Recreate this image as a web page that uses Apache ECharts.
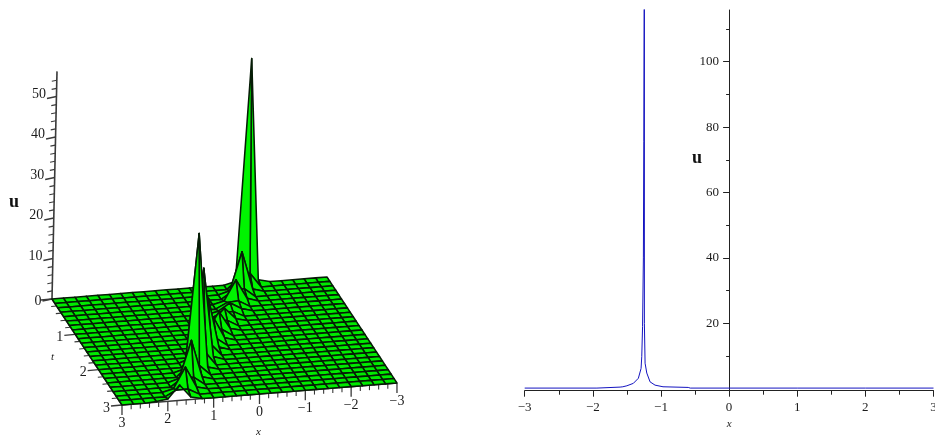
<!DOCTYPE html>
<html>
<head>
<meta charset="utf-8">
<style>html,body{margin:0;padding:0;background:#fff}#c{width:935px;height:438px}</style>
<script src="https://cdn.jsdelivr.net/npm/echarts@6/dist/echarts.min.js"></script>
</head>
<body>
<div id="c"></div>
<script>
// ---------- right panel: u against x ----------
const curveX = [-3, -1.94, -1.935, -1.6, -1.56, -1.5, -1.405, -1.332, -1.292, -1.282, -1.27, -1.258, -1.252, -1.2435, -1.2435, -1.2435, -1.233, -1.208, -1.16, -1.087, -0.97, -0.6, -0.57, 0, 1, 2, 3];
const curveU = [0.2, 0.2, 0.4, 0.5, 0.6, 0.9, 1.65, 3.2, 6.2, 9.8, 19, 40, 75.5, 76, 140, 20, 7.8, 4.8, 2.1, 1.1, 0.6, 0.4, 0.2, 0.2, 0.2, 0.2, 0.2];
const rightMajorU = [20, 40, 60, 80, 100];
const rightMinorU = [10, 30, 50, 70, 90, 110];

// ---------- left panel: surface u(x,t), nodes that rise above the flat sheet ----------
const gridXCount = 24, gridTCount = 24;
const surfaceBase = 0;
const surfaceT = [0,0,0, .125,.125, .25,.25,.25, .375,.375, .5,.5,.5, .625,.625, .75,.75,.75, .875,.875, 1,1,1, 1.125,1.125, 1.25,1.25,1.25, 1.375,1.375, 1.5,1.5,1.5, 1.625,1.625, 1.75,1.75,1.75, 1.875,1.875, 2,2,2, 2.125,2.125, 2.25,2.25,2.25, 2.375,2.375, 2.5,2.5,2.5, 2.625,2.625, 2.75,2.75,2.75, 2.875,2.875, 3,3,3,3];
const surfaceX = [-1.25,-1,-1.5, -1.25,-1, -1,-.75,-1.25, -1,-.75, -.75,-.5,-1, -.75,-.5, -.5,-.25,-.75, -.5,-.25, -.25,0,-.5, -.25,0, 0,.25,-.25, 0,.25, .25,.5,0, .25,.5, .5,.75,.25, .5,.75, .75,1,.5, .75,1, 1,1.25,.75, 1,1.25, 1.25,1.5,1, 1.25,1.5, 1.5,1.75,1.25, 1.5,1.75, 1.75,2,1.5,2.25];
const surfaceU = [55.5,.7,.7, 3.6,2.5, 10.2,.8,.8, 2.2,1.8, 5.7,.7,.9, 1.6,1.4, 2.4,.6,.8, 1.4,1.3, 3.5,.7,.7, 1.6,1.6, 5,.7,.7, 1.8,1.7, 6,.8,.8, 2,2.2, 13,.9,.9, 3,2.8, 23,1,1, 3.5,3.5, 34,.8,.8, 2.5,2.6, 10,.8,.8, 2,2, 5.8,.7,.7, 1.5,1.5, 3.8,.6,.6,.2];

// ---------- left panel: axes ----------
const uMajor = [0, 10, 20, 30, 40, 50];
const uMinor = [2,4,6,8,12,14,16,18,22,24,26,28,32,34,36,38,42,44,46,48,52,54];
const uAxisTop = 56.2;
const tMajor = [0, 1, 2, 3];
const tMinor = [.2,.4,.6,.8,1.2,1.4,1.6,1.8,2.2,2.4,2.6,2.8];
const xMajor = [3, 2, 1, 0, -1, -2, -3];
const xMinor = [2.8,2.6,2.4,2.2,1.8,1.6,1.4,1.2,.8,.6,.4,.2,-.2,-.4,-.6,-.8,-1.2,-1.4,-1.6,-1.8,-2.2,-2.4,-2.6,-2.8];
const minus = '\u2212';

// oblique view of the box (page pixels per data unit)
const view = {ox: 52, oy: 299, ax: 45.83, ay: -3.67, tx: 23.33, ty: 35.33, ux: 0.089, uy: -4.05};
function project(x, t, u) {
  const a = 3 - x;
  return [view.ox + view.ax * a + view.tx * t + view.ux * u,
          view.oy + view.ay * a + view.ty * t + view.uy * u];
}

const uLookup = {};
surfaceX.forEach((x, k) => { uLookup[x + '|' + surfaceT[k]] = surfaceU[k]; });
const dx = 6 / gridXCount, dt = 3 / gridTCount;
const nodeU = (x, t) => { const v = uLookup[x + '|' + t]; return v === undefined ? surfaceBase : v; };

const cells = [];
for (let j = 0; j < gridTCount; j++) {
  for (let i = gridXCount - 1; i >= 0; i--) {
    cells.push([3 - i * dx, j * dt]);
  }
}

const AXIS = '#3a3a3a', TEXT = '#1c1c1c';
const numFont = '14px "Liberation Serif"';
const rightWidth = 408.8;

const tickItems = [];
uMajor.forEach(u => tickItems.push(['u', 3, 0, u, 1]));
uMinor.forEach(u => tickItems.push(['u', 3, 0, u, 0]));
tMajor.forEach(t => tickItems.push(['t', 3, t, 0, 1]));
tMinor.forEach(t => tickItems.push(['t', 3, t, 0, 0]));
xMajor.forEach(x => tickItems.push(['x', x, 3, 0, 1]));
xMinor.forEach(x => tickItems.push(['x', x, 3, 0, 0]));
const labelItems = [
  ...uMajor.map(u => ['u', 3, 0, u, u]),
  ...tMajor.slice(1).map(t => ['t', 3, t, 0, t]),
  ...xMajor.map(x => ['x', x, 3, 0, x])
];

const lineStyle = w => ({stroke: AXIS, lineWidth: w});
const option = {
  animation: false,
  backgroundColor: '#fff',
  grid: [
    {left: 0, top: 0, width: 935, height: 438, show: false, outerBoundsMode: 'none'},
    {left: 524.7, top: 10, width: rightWidth, height: 380.7, show: false, outerBoundsMode: 'none'}
  ],
  xAxis: [
    {gridIndex: 0, type: 'value', min: 0, max: 935, show: false},
    {gridIndex: 1, type: 'value', min: -3, max: 3, interval: 1,
     axisLine: {onZero: false, lineStyle: {color: '#222', width: 1}},
     axisTick: {length: 6, lineStyle: {color: '#222'}},
     minorTick: {show: true, splitNumber: 2, length: 4, lineStyle: {color: '#222'}},
     splitLine: {show: false}, minorSplitLine: {show: false},
     axisLabel: {margin: 10, color: TEXT, fontSize: 13, fontFamily: 'Liberation Serif',
       showMinLabel: true, showMaxLabel: true,
       formatter: v => (v < 0 ? minus + (-v) : '' + v)},
     name: 'x', nameLocation: 'middle', nameGap: 26,
     nameTextStyle: {fontFamily: 'Liberation Serif', fontStyle: 'italic', fontSize: 11, color: TEXT}}
  ],
  yAxis: [
    {gridIndex: 0, type: 'value', min: 0, max: 438, inverse: true, show: false},
    {gridIndex: 1, type: 'value', min: -0.6, max: 115.8, position: 'left', offset: -rightWidth / 2,
     axisLine: {show: true, onZero: false, lineStyle: {color: '#222', width: 1}},
     axisTick: {show: true, length: 6, customValues: rightMajorU, lineStyle: {color: '#222'}},
     splitLine: {show: false},
     axisLabel: {margin: 10, color: TEXT, fontSize: 13, fontFamily: 'Liberation Serif', customValues: rightMajorU}},
    {gridIndex: 1, type: 'value', min: -0.6, max: 115.8, position: 'left', offset: -rightWidth / 2,
     axisLine: {show: false, onZero: false},
     axisTick: {show: true, length: 3, customValues: rightMinorU, lineStyle: {color: '#222'}},
     splitLine: {show: false},
     axisLabel: {show: false}}
  ],
  series: [
    // surface, back to front
    {type: 'custom', xAxisIndex: 0, yAxisIndex: 0, clip: false, silent: true, z: 3,
     data: cells,
     renderItem(params, api) {
       const x = api.value(0), t = api.value(1);
       const corners = [[x, t], [x - dx, t], [x - dx, t + dt], [x, t + dt]];
       let raised = false;
       const points = corners.map(c => {
         const u = nodeU(c[0], c[1]);
         if (u > 1.2) raised = true;
         return api.coord(project(c[0], c[1], u));
       });
       return {type: 'polygon', shape: {points},
         style: {fill: raised ? '#00f400' : '#00ea00', stroke: '#061c06', lineWidth: 1.55, lineJoin: 'round'}};
     }},
    // box axis lines
    {type: 'custom', xAxisIndex: 0, yAxisIndex: 0, clip: false, silent: true, z: 2,
     data: [[3, 0, 0, 3, 0, uAxisTop], [3, 0, 0, 3, 3, 0], [3, 3, 0, -3, 3, 0]],
     renderItem(params, api) {
       const a = api.coord(project(api.value(0), api.value(1), api.value(2)));
       const b = api.coord(project(api.value(3), api.value(4), api.value(5)));
       return {type: 'line', shape: {x1: a[0], y1: a[1], x2: b[0], y2: b[1]}, style: lineStyle(1.6)};
     }},
    // box ticks
    {type: 'custom', xAxisIndex: 0, yAxisIndex: 0, clip: false, silent: true, z: 2,
     encode: {x: 1, y: 2},
     data: tickItems,
     renderItem(params, api) {
       const kind = tickItems[params.dataIndex][0];
       const major = api.value(4);
       const p = api.coord(project(api.value(1), api.value(2), api.value(3)));
       let q;
       if (kind === 'u') q = major ? [p[0] - 9.5, p[1] + 2] : [p[0] - 5, p[1] + 1];
       else if (kind === 't') q = major ? [p[0] - 11, p[1] + 1] : [p[0] - 5.5, p[1] + 0.5];
       else q = major ? [p[0], p[1] + 10] : [p[0], p[1] + 5];
       return {type: 'line', shape: {x1: p[0], y1: p[1], x2: q[0], y2: q[1]},
               style: lineStyle(major ? 1.3 : 1.1)};
     }},
    // box tick labels
    {type: 'custom', xAxisIndex: 0, yAxisIndex: 0, clip: false, silent: true, z: 4,
     encode: {x: 1, y: 2},
     data: labelItems,
     renderItem(params, api) {
       const p = api.coord(project(api.value(1), api.value(2), api.value(3)));
       const v = api.value(4);
       const text = v < 0 ? minus + (-v) : '' + v;
       const kind = labelItems[params.dataIndex][0];
       let sx, sy, align = 'center';
       if (kind === 'u') { sx = p[0] - 10.5; sy = p[1] + (v === 0 ? 2.5 : -2.5); align = 'right'; }
       else if (kind === 't') { sx = p[0] - 15.5; sy = p[1] + 3; }
       else { sx = p[0]; sy = p[1] + 18.5; }
       return {type: 'text', style: {x: sx, y: sy, text, font: numFont, fill: TEXT, textAlign: align, textVerticalAlign: 'middle'}};
     }},
    // right panel curve
    {type: 'line', xAxisIndex: 1, yAxisIndex: 1, showSymbol: false, smooth: false, silent: true, clip: true,
     lineStyle: {color: '#1414c0', width: 1},
     data: curveX.map((x, k) => [x, curveU[k]])}
  ],
  graphic: [
    {type: 'text', left: 9, top: 193, silent: true, style: {text: 'u', font: 'bold 18px "Liberation Serif"', fill: '#111'}},
    {type: 'text', left: 51, top: 352, silent: true, style: {text: 't', font: 'italic 11px "Liberation Serif"', fill: TEXT}},
    {type: 'text', left: 256, top: 427, silent: true, style: {text: 'x', font: 'italic 11px "Liberation Serif"', fill: TEXT}},
    {type: 'text', left: 692, top: 149, silent: true, style: {text: 'u', font: 'bold 18px "Liberation Serif"', fill: '#111'}}
  ]
};
echarts.init(document.getElementById('c'), null, {renderer: 'canvas'}).setOption(option);
</script>
</body>
</html>
